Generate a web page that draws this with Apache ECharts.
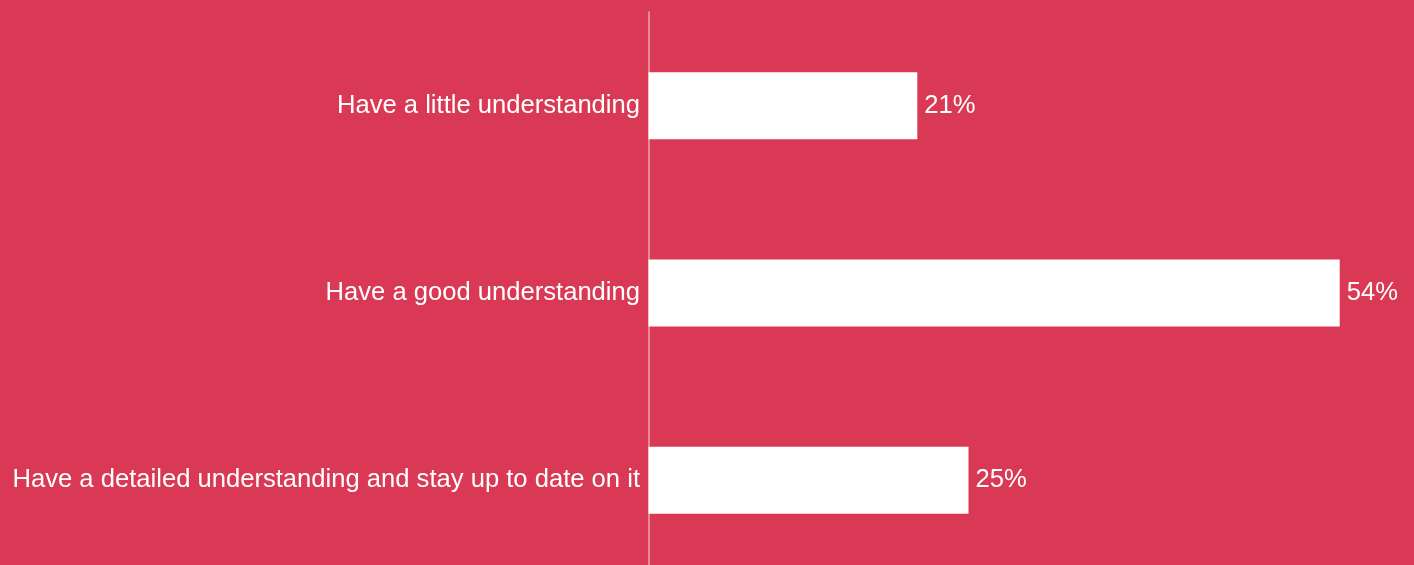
<!DOCTYPE html>
<html>
<head>
<meta charset="utf-8">
<script src="https://cdn.jsdelivr.net/npm/echarts@6/dist/echarts.min.js"></script>
<style>
  html, body { margin: 0; padding: 0; background: #d93954; }
  #chart { width: 1414px; height: 565px; }
</style>
</head>
<body>
<div id="chart"></div>
<script>
var categories = ['Have a little understanding', 'Have a good understanding', 'Have a detailed understanding and stay up to date on it'];
var values = [21, 54, 25];

var myChart = echarts.init(document.getElementById('chart'));
var option = {
    backgroundColor: '#d93954',
    animation: false,
    grid: {
        left: 648.5,
        top: 12,
        width: 768,
        height: 562,
        outerBoundsMode: 'none',
        containLabel: false
    },
    xAxis: {
        type: 'value',
        min: 0,
        max: 60,
        show: false
    },
    yAxis: {
        type: 'category',
        inverse: true,
        data: categories,
        axisLine: { show: true, lineStyle: { color: '#eba3b0', width: 1.5 } },
        axisTick: { show: false },
        axisLabel: {
            color: '#ffffff',
            fontFamily: 'Liberation Sans, Arial, sans-serif',
            fontSize: 25.6,
            margin: 8.5
        }
    },
    series: [{
        type: 'bar',
        data: values,
        barWidth: 67,
        itemStyle: { color: '#ffffff' },
        label: {
            show: true,
            position: 'right',
            distance: 7,
            formatter: '{c}%',
            color: '#ffffff',
            fontFamily: 'Liberation Sans, Arial, sans-serif',
            fontSize: 25.6
        }
    }]
};
myChart.setOption(option);
</script>
</body>
</html>
